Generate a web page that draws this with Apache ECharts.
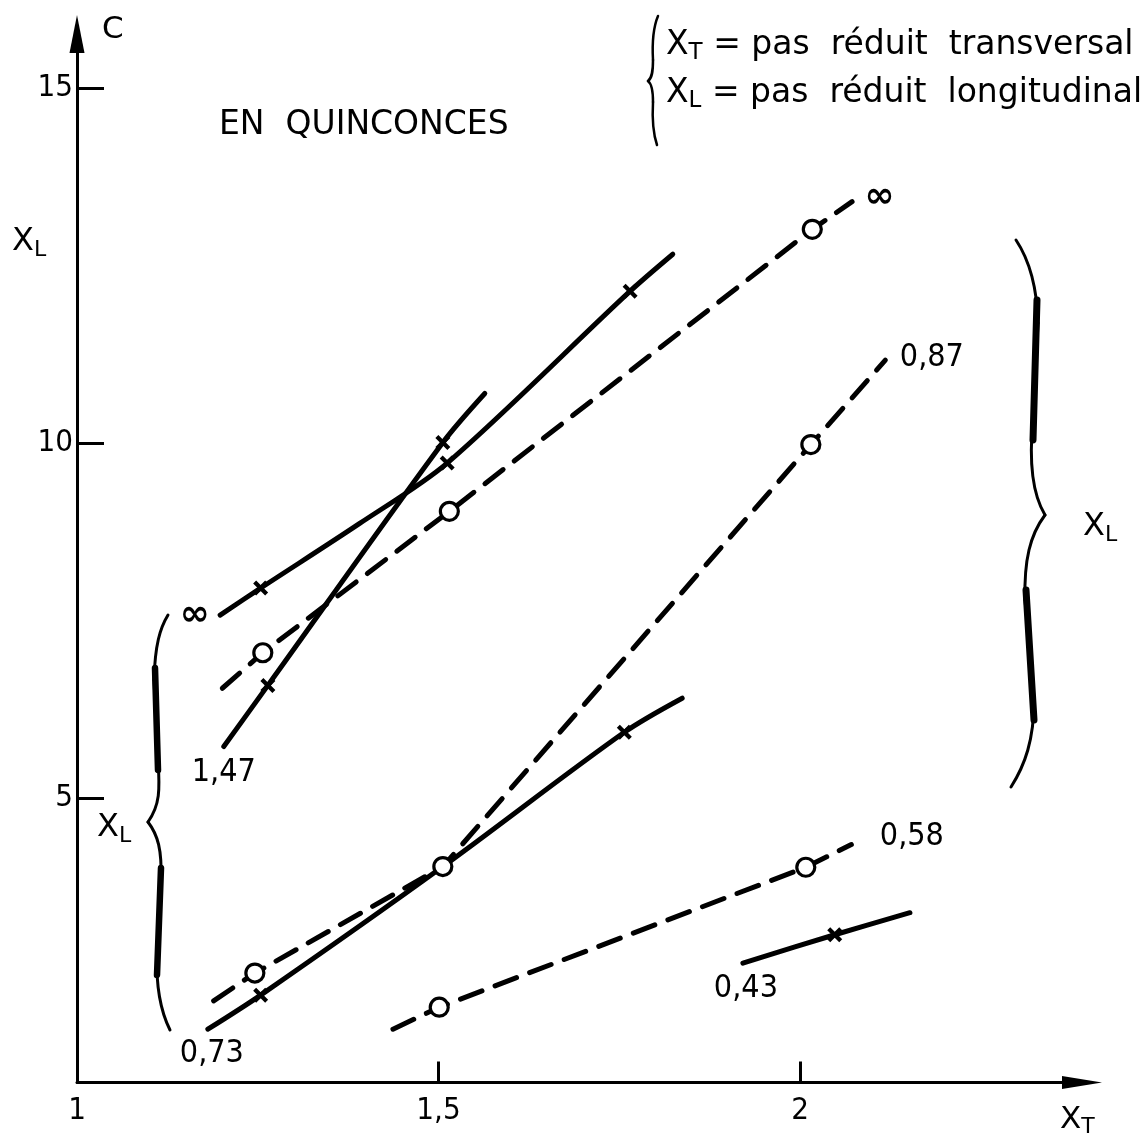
<!DOCTYPE html>
<html><head><meta charset="utf-8">
<script src="https://cdn.jsdelivr.net/npm/echarts/dist/echarts.min.js"></script>
<style>html,body{margin:0;padding:0;background:#fff}#c{width:1148px;height:1136px}</style>
</head><body><div id="c"></div>
<script>
// ---- axis ticks ----
const X_TICKS = [1, 1.5, 2];
const Y_TICKS = [5, 10, 15];

// ---- crosses (X_L labels on the left) ----
const crossInfX = [1.198, 1.254, 1.391, 1.512, 1.765, 1.824];
const crossInfY = [7.58, 7.96, 8.87, 9.72, 12.14, 12.66];
const crossInfMark = [0, 1, 0, 1, 1, 0];

const cross147X = [1.203, 1.264, 1.506, 1.564];
const cross147Y = [5.73, 6.59, 10.01, 10.70];
const cross147Mark = [0, 1, 1, 0];

const cross073X = [1.181, 1.254, 1.506, 1.757, 1.837];
const cross073Y = [1.75, 2.23, 4.04, 5.93, 6.41];
const cross073Mark = [0, 1, 0, 1, 0];

const cross043X = [1.921, 2.048, 2.152];
const cross043Y = [2.68, 3.08, 3.39];
const cross043Mark = [0, 1, 0];

// ---- circles (X_L labels on the right) ----
const circInfX = [1.201, 1.257, 1.515, 2.017, 2.072];
const circInfY = [6.55, 7.05, 9.04, 13.01, 13.40];
const circInfMark = [0, 1, 1, 1, 0];

const circ087X = [1.189, 1.246, 1.506, 2.015, 2.118];
const circ087Y = [2.15, 2.54, 4.04, 9.98, 11.17];
const circ087Mark = [0, 1, 1, 1, 0];

const circ058X = [1.437, 1.501, 2.008, 2.071];
const circ058Y = [1.75, 2.06, 4.03, 4.35];
const circ058Mark = [0, 1, 1, 0];

// ---- curve labels (X_L values) ----
const lblCrossInf = '∞', lblCross147 = '1,47', lblCross073 = '0,73', lblCross043 = '0,43';
const lblCircInf = '∞', lblCirc087 = '0,87', lblCirc058 = '0,58';

const F = "'DejaVu Sans Condensed', 'DejaVu Sans', sans-serif";
const F2 = "'DejaVu Sans', sans-serif";
const crossPath = 'path://M0,2L2,0L5,3L8,0L10,2L7,5L10,8L8,10L5,7L2,10L0,8L3,5Z';

function mk(name, xs, ys, marks, kind, label, at, lopt) {
  const data = xs.map((x, i) => {
    const it = { value: [x, ys[i]] };
    if (!marks[i]) {
      it.symbol = 'circle'; it.symbolSize = 1;
      it.itemStyle = { color: 'rgba(0,0,0,0)', borderWidth: 0, borderColor: 'rgba(0,0,0,0)' };
    }
    return it;
  });
  const li = at === 'start' ? 0 : data.length - 1;
  data[li].label = Object.assign({ show: true, formatter: label, color: '#000', fontFamily: F, fontSize: 32 }, lopt);
  const isO = kind === 'o';
  return {
    type: 'line', name, data,
    symbol: isO ? 'circle' : crossPath,
    symbolSize: isO ? 18 : 15,
    showAllSymbol: true,
    itemStyle: isO ? { color: '#fff', borderColor: '#000', borderWidth: 3.2 } : { color: '#000', borderWidth: 0 },
    lineStyle: { color: '#000', width: 5, type: isO ? [23, 14] : 'solid', cap: 'round' },
    smooth: isO ? false : 0.3,
    z: isO ? 4 : 3,
    label: { show: false },
    emphasis: { disabled: true },
    animation: false
  };
}

const fmt = v => String(v).replace('.', ',');

// braces: cubic segments [x0,y0,c1x,c1y,c2x,c2y,x1,y1]
function curve(s, w) {
  return { type: 'bezierCurve', silent: true,
    shape: { x1: s[0], y1: s[1], cpx1: s[2], cpy1: s[3], cpx2: s[4], cpy2: s[5], x2: s[6], y2: s[7] },
    style: { stroke: '#000', lineWidth: w, fill: null, lineCap: 'round' } };
}
function seg(a, w) {
  return { type: 'line', silent: true, shape: { x1: a[0], y1: a[1], x2: a[2], y2: a[3] },
    style: { stroke: '#000', lineWidth: w, lineCap: 'round' } };
}
function subText(x, y, main, sub, size, extra) {
  return { type: 'text', x, y, silent: true, style: {
    text: '{x|' + main + '}{s|' + sub + '}' + (extra ? '{t|' + extra + '}' : ''),
    fill: '#000', textAlign: 'left', textVerticalAlign: 'middle', align: 'left', verticalAlign: 'middle',
    rich: { x: { fontSize: size, fontFamily: F2 }, s: { fontSize: Math.round(size * 0.7), fontFamily: F2, padding: [Math.round(size * 0.5), 0, 0, 0] },
            t: { fontSize: size, fontFamily: F2 } } } };
}

const graphics = [
  { type: 'text', x: 219, y: 125, silent: true, style: { text: 'EN  QUINCONCES', fill: '#000', font: '33px ' + F2, textAlign: 'left', textVerticalAlign: 'middle', align: 'left', verticalAlign: 'middle' } },
  subText(666, 45, 'X', 'T', 33, ' = pas  réduit  transversal'),
  subText(666, 93, 'X', 'L', 33, ' = pas  réduit  longitudinal'),
  subText(12, 242, 'X', 'L', 32),
  subText(97, 828, 'X', 'L', 32),
  subText(1083, 527, 'X', 'L', 32),
  // legend brace
  curve([658,16, 653,28, 652,42, 653,60], 2.5), curve([653,60, 653,72, 652,78, 648,81], 2.5),
  curve([648,81, 652,84, 653,92, 653,102], 2.5), curve([653,102, 652,120, 653,133, 657,145], 2.5),
  // left brace
  curve([168,615, 160,628, 155,645, 154,680], 3), seg([154,680, 158,760], 3),
  curve([158,760, 160,790, 160,805, 148,822], 3), curve([148,822, 158,835, 162,850, 161,880], 3),
  seg([161,880, 157,955], 3), curve([157,955, 156,985, 160,1010, 170,1030], 3),
  seg([155,668, 158,770], 6.5), seg([161,868, 157,975], 6.5),
  // right brace
  curve([1016,240, 1028,258, 1037,285, 1038,323], 3), seg([1038,323, 1033,420], 3),
  curve([1033,420, 1030,450, 1030,490, 1045,515], 3), curve([1045,515, 1030,535, 1024,560, 1025,600], 3),
  seg([1025,600, 1034,700], 3), curve([1034,700, 1034,740, 1025,765, 1011,787], 3),
  seg([1037,300, 1033,440], 7), seg([1026,590, 1034,720], 7)
];

const chart = echarts.init(document.getElementById('c'), null, { renderer: 'canvas' });
chart.setOption({
  backgroundColor: '#fff',
  animation: false,
  grid: { left: 77, right: 66, top: 34, bottom: 53.5, containLabel: false, outerBoundsMode: 'none' },
  xAxis: {
    type: 'value', min: 1, max: 2.39,
    name: '{x|X}{s|T}', nameLocation: 'end', nameGap: -22, nameMoveOverlap: false,
    nameTextStyle: { align: 'left', verticalAlign: 'top', padding: [18, 0, 0, 0],
      rich: { x: { fontSize: 31, fontFamily: F2, color: '#000' }, s: { fontSize: 22, fontFamily: F2, color: '#000', padding: [16, 0, 0, 0] } } },
    axisLine: { onZero: false, symbol: ['none', 'triangle'], symbolSize: [13, 40], lineStyle: { color: '#000', width: 3 } },
    axisTick: { inside: true, length: 21, customValues: [1.5, 2], lineStyle: { color: '#000', width: 3 } },
    axisLabel: { customValues: X_TICKS, formatter: fmt, color: '#000', fontSize: 31, fontFamily: F, margin: 13 },
    splitLine: { show: false }
  },
  yAxis: {
    type: 'value', min: 1, max: 15.76,
    name: 'C', nameLocation: 'end', nameGap: 4, nameMoveOverlap: false,
    nameTextStyle: { align: 'left', verticalAlign: 'middle', padding: [0, 0, 0, 25], fontSize: 31, fontFamily: F2, color: '#000' },
    axisLine: { onZero: false, symbol: ['none', 'triangle'], symbolSize: [15, 38], lineStyle: { color: '#000', width: 3 } },
    axisTick: { inside: true, length: 27, customValues: Y_TICKS, lineStyle: { color: '#000', width: 3 } },
    axisLabel: { customValues: Y_TICKS, formatter: fmt, color: '#000', fontSize: 31, fontFamily: F, margin: 4 },
    splitLine: { show: false }
  },
  series: [
    mk('croix ∞', crossInfX, crossInfY, crossInfMark, 'x', lblCrossInf, 'start', { position: 'left', distance: 10, fontFamily: F2, fontSize: 36, fontWeight: 'bold', offset: [0, 1] }),
    mk('croix 1,47', cross147X, cross147Y, cross147Mark, 'x', lblCross147, 'start', { position: 'bottom', distance: 10 }),
    mk('croix 0,73', cross073X, cross073Y, cross073Mark, 'x', lblCross073, 'start', { position: 'bottom', distance: 8, offset: [4, 0] }),
    mk('croix 0,43', cross043X, cross043Y, cross043Mark, 'x', lblCross043, 'start', { position: 'bottom', distance: 9, offset: [3, 0] }),
    mk('cercle ∞', circInfX, circInfY, circInfMark, 'o', lblCircInf, 'end', { position: 'right', distance: 12, fontFamily: F2, fontSize: 36, fontWeight: 'bold', offset: [0, -4] }),
    mk('cercle 0,87', circ087X, circ087Y, circ087Mark, 'o', lblCirc087, 'end', { position: 'right', distance: 14, offset: [0, -2] }),
    mk('cercle 0,58', circ058X, circ058Y, circ058Mark, 'o', lblCirc058, 'end', { position: 'right', distance: 28, offset: [0, -8] })
  ],
  graphic: { elements: graphics }
});
</script></body></html>
